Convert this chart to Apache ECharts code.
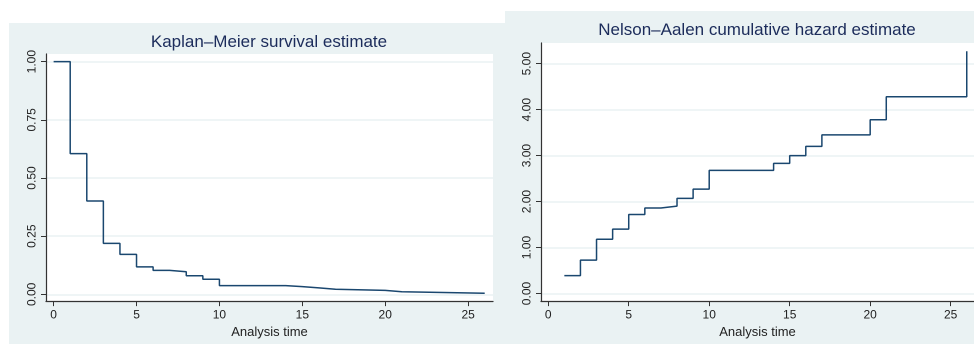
<!DOCTYPE html>
<html><head><meta charset="utf-8">
<script src="https://cdn.jsdelivr.net/npm/echarts@6/dist/echarts.min.js"></script>
<style>html,body{margin:0;padding:0;background:#fff}#c{width:974px;height:344px}</style>
</head><body><div id="c"></div>
<script>
const kmTitle = 'Kaplan\u2013Meier survival estimate';
const naTitle = 'Nelson\u2013Aalen cumulative hazard estimate';
const xName = 'Analysis time';
const kmTimes = [0, 1, 2, 3, 4, 5, 6, 7, 8, 9, 10, 14, 15, 16, 17, 20, 21, 26];
const kmSurv = [1.00, 0.605, 0.401, 0.219, 0.172, 0.118, 0.103, 0.097, 0.080, 0.065, 0.0375, 0.033, 0.028, 0.022, 0.017, 0.011, 0.005, 0.005];
const naTimes = [1, 2, 3, 4, 5, 6, 7, 8, 9, 10, 14, 15, 16, 17, 20, 21, 26];
const naHaz = [0.39, 0.726, 1.18, 1.40, 1.72, 1.86, 1.90, 2.07, 2.27, 2.68, 2.83, 3.00, 3.20, 3.45, 3.78, 4.28, 5.27];
const xTicks = [0, 5, 10, 15, 20, 25];
const kmTicks = [0, 0.25, 0.5, 0.75, 1];
const naTicks = [0, 1, 2, 3, 4, 5];

const FONT = "'Liberation Sans', Arial, sans-serif";
const panelBg = '#eaf2f3';
const gridCol = '#eaf2f3';
const axisCol = '#333';
const lineCol = '#1a476f';

function xAxisDef(gi, min, max) {
  return {
    type: 'value', gridIndex: gi, min: min, max: max,
    name: xName, nameLocation: 'middle', nameGap: 17,
    nameTextStyle: { fontFamily: FONT, fontSize: 13, color: '#222' },
    axisLine: { show: true, onZero: false, lineStyle: { color: axisCol, width: 1.2 } },
    axisTick: { show: true, inside: false, length: 5, customValues: xTicks, lineStyle: { color: axisCol } },
    axisLabel: { show: true, customValues: xTicks, margin: 8, fontFamily: FONT, fontSize: 12, color: '#222' },
    splitLine: { show: false }
  };
}
function yAxisDef(gi, min, max, ticks) {
  return {
    type: 'value', gridIndex: gi, min: min, max: max,
    axisLine: { show: true, onZero: false, lineStyle: { color: axisCol, width: 1.2 } },
    axisTick: { show: true, inside: false, length: 5, customValues: ticks, lineStyle: { color: axisCol } },
    axisLabel: { show: true, customValues: ticks, rotate: 90, margin: 8, fontFamily: FONT, fontSize: 12, color: '#222',
      formatter: v => Number(v).toFixed(2) },
    splitLine: { show: true, lineStyle: { color: gridCol, width: 1.5 } }
  };
}

const chart = echarts.init(document.getElementById('c'), null, { renderer: 'canvas', devicePixelRatio: 2 });
chart.setOption({
  animation: false,
  backgroundColor: '#ffffff',
  graphic: [
    { type: 'rect', z: -10, silent: true, shape: { x: 9, y: 23, width: 496, height: 321 }, style: { fill: panelBg } },
    { type: 'rect', z: -10, silent: true, shape: { x: 505, y: 11, width: 469, height: 333 }, style: { fill: panelBg } }
  ],
  title: [
    { text: kmTitle, left: 269, top: 34, textAlign: 'center', padding: 0,
      textStyle: { fontFamily: FONT, fontSize: 17, fontWeight: 'normal', color: '#1c2c5b' } },
    { text: naTitle, left: 757, top: 22, textAlign: 'center', padding: 0,
      textStyle: { fontFamily: FONT, fontSize: 17, fontWeight: 'normal', color: '#1c2c5b' } }
  ],
  grid: [
    { left: 46, top: 54, width: 447, height: 255, show: true, backgroundColor: '#ffffff', borderWidth: 0, containLabel: false },
    { left: 541, top: 43, width: 433, height: 263, show: true, backgroundColor: '#ffffff', borderWidth: 0, containLabel: false }
  ],
  xAxis: [ xAxisDef(0, -0.46, 26.5), xAxisDef(1, -0.45, 26.45) ],
  yAxis: [ yAxisDef(0, -0.029, 1.033, kmTicks), yAxisDef(1, -0.165, 5.45, naTicks) ],
  series: [
    { type: 'line', xAxisIndex: 0, yAxisIndex: 0, step: 'end', showSymbol: false, symbol: 'none',
      lineStyle: { color: lineCol, width: 1.5 }, data: kmTimes.map((t, i) => [t, kmSurv[i]]) },
    { type: 'line', xAxisIndex: 1, yAxisIndex: 1, step: 'end', showSymbol: false, symbol: 'none',
      lineStyle: { color: lineCol, width: 1.5 }, data: naTimes.map((t, i) => [t, naHaz[i]]) }
  ]
});
</script>
</body></html>
